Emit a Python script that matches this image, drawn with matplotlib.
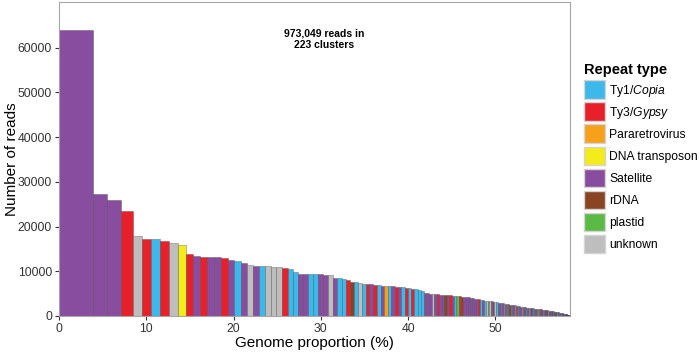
import numpy as np
import matplotlib
matplotlib.use("Agg")
import matplotlib.pyplot as plt
from matplotlib.patches import Patch

plt.rcParams['font.family'] = ['Liberation Sans', 'DejaVu Sans']
plt.rcParams['mathtext.fontset'] = 'custom'
plt.rcParams['mathtext.it'] = 'Liberation Sans:italic'
plt.rcParams['mathtext.rm'] = 'Liberation Sans'

# reads per cluster, sorted as in the picture (223 clusters)
reads_top = [64000, 27200, 26000, 23400, 17800, 17300, 17250, 16800, 16400, 15800,
             13800, 13500, 13300, 13200, 13100, 12900, 12450, 12200, 11900, 11300,
             11250, 11200, 11150, 10950, 10850, 10700, 10550, 9750, 9500, 9450,
             9400, 9400, 9300, 9250, 9100, 8500, 8400, 8200, 8150, 7600,
             7500, 7450, 7200, 7100, 7050, 7000, 6950, 6750]
reads_mid = [6700, 6650, 6600, 6550, 6450, 6400, 6300, 6200, 6100, 6000,
             5800, 5500, 5200, 5100, 5000, 4950, 4900, 4850, 4800, 4750,
             4700, 4650, 4600, 4550, 4500, 4450, 4400, 4350, 4300, 4250, 4200,
             4100, 4000, 3900, 3800, 3700, 3600, 3500, 3450, 3400, 3350,
             3300, 3250, 3200, 3100, 3050]
reads_low = [2950, 2900, 2850, 2800, 2750, 2700, 2650, 2600, 2550, 2500,
             2450, 2400, 2350, 2300, 2250, 2200, 2150, 2100, 2050, 2000,
             1950, 1925, 1900, 1875, 1850, 1825, 1800, 1775, 1750, 1725,
             1700, 1675, 1650, 1625, 1600, 1575, 1550, 1525, 1500, 1475,
             1450, 1425, 1400, 1375, 1350, 1325, 1300, 1275, 1250, 1225,
             1200, 1175, 1150]
reads_tail = [1120, 1100, 1080, 1060, 1040, 1020, 1000, 980, 960, 940,
              920, 900, 880, 860, 840, 820, 800, 780, 760, 740,
              720, 700, 680, 660, 640, 620, 600, 580, 560, 540,
              520, 500, 480, 460, 450, 440, 430, 420, 410, 400,
              390, 380, 370, 360, 350, 340, 330, 320, 310, 300,
              290, 280, 270, 260, 250, 240, 230, 220, 210, 200,
              190, 180, 170, 160, 150, 140, 130, 120, 110, 100,
              90, 80, 70, 60, 50, 40]

# repeat type per cluster (C=Ty1/Copia, G=Ty3/Gypsy, P=Pararetrovirus,
# D=DNA transposon, S=Satellite, R=rDNA, L=plastid, U=unknown)
types_top = "SSSGUGCGUD" "GSGSSGSCSU" "SCUUUGCCSS" "CCSSUSCCGR" "CUCGSGCS"
types_mid = "PCSGSCGCGC" "CCSSSUSGSS" "RSGSCLGRSSS" "SSSSGCSCULUSRUC"
types_low = "SSCSUSLSRCSSUGSCSSUS" "SSCSSUSRSS" "CSSSLSUSSG" "SSCSSSRSSU" "SSS"
types_tail = "SSUSSCSSSR" "SSSUSSSSCS" "SSSUSSSRSS" "SSSCSSSSUS" "SSSSSRSSSS" "SSUSSSSSSS" "CSSSSSSSUS" "SSSSSS"

total_input_reads = 1663000
cluster_reads_text = "973,049 reads in\n223 clusters"

type_codes = ['C', 'G', 'P', 'D', 'S', 'R', 'L', 'U']
type_labels = ['Ty1/$\\mathit{Copia}$', 'Ty3/$\\mathit{Gypsy}$', 'Pararetrovirus',
               'DNA transposon', 'Satellite', 'rDNA', 'plastid', 'unknown']
type_colors = ['#3CB8EB', '#E8202A', '#F7A11A', '#F4EB1A', '#884D9F',
               '#8A4422', '#5BB946', '#BEBEBE']

reads = np.array(reads_top + reads_mid + reads_low + reads_tail, dtype=float)
types = list(types_top + types_mid + types_low + types_tail)
cmap = dict(zip(type_codes, type_colors))

widths = reads / total_input_reads * 100
lefts = np.concatenate([[0], np.cumsum(widths)[:-1]])

fig = plt.figure(figsize=(7, 3.54), dpi=100)
ax = fig.add_axes([59 / 700, 1 - 316 / 354, 511 / 700, 314 / 354])

ax.bar(lefts, reads, width=widths, align='edge',
       color=[cmap[t] for t in types],
       edgecolor=(0.2, 0.2, 0.2, 0.55), linewidth=0.4)

ax.set_xlim(0, widths.sum())
ax.set_ylim(0, 70200)
ax.set_xticks([0, 10, 20, 30, 40, 50])
ax.set_yticks(np.arange(0, 60001, 10000))
ax.tick_params(labelsize=8.8, colors='#333333', length=3, width=0.8, pad=2)
for s in ax.spines.values():
    s.set_color('#a6a6a6')
    s.set_linewidth(0.8)

ax.set_xlabel('Genome proportion (%)', fontsize=11, labelpad=1)
ax.set_ylabel('Number of reads', fontsize=11)
ax.yaxis.set_label_coords(-0.078, 0.5)

ax.text(0.519, 0.882, cluster_reads_text, transform=ax.transAxes,
        ha='center', va='center', fontsize=7.5, fontweight='bold',
        linespacing=1.2)

handles = [Patch(facecolor=c, edgecolor='#d4d4d4', linewidth=1.0) for c in type_colors]
leg = fig.legend(handles, type_labels, loc='upper left',
                 bbox_to_anchor=(584 / 700, 1 - 63 / 354),
                 frameon=False, fontsize=8.7, title='Repeat type',
                 title_fontproperties={'weight': 'bold', 'size': 10.5},
                 handlelength=1.7, handleheight=2.0, labelspacing=0.28,
                 handletextpad=0.4, borderpad=0, borderaxespad=0,
                 alignment='left')

fig.savefig('out.png', dpi=100)
